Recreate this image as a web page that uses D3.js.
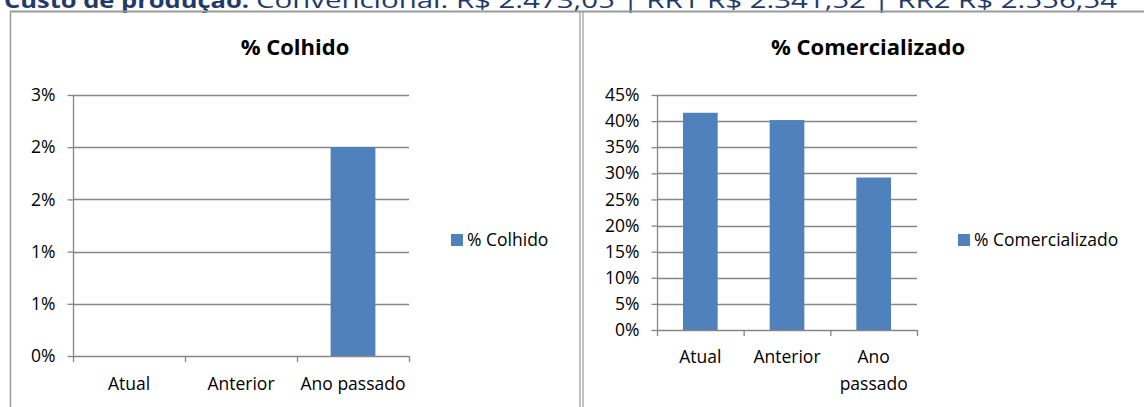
<!DOCTYPE html>
<html>
<head>
<meta charset="utf-8">
<script src="https://cdn.jsdelivr.net/npm/d3@7"></script>
<style>
	body { margin: 0; background: #fff; }
	svg { display: block; font-family: "Open Sans", sans-serif; }
</style>
</head>
<body>
<script>
// data
var categories = ['Atual', 'Anterior', 'Ano passado'];
var colhido = [0, 0, 0.02];
var comercializado = [0.416, 0.402, 0.292];
var colhidoTicks = [0, 0.005, 0.01, 0.015, 0.02, 0.025];
var colhidoTickLabels = ['0%', '1%', '1%', '2%', '2%', '3%'];
var comercTicks = [0, 0.05, 0.1, 0.15, 0.2, 0.25, 0.3, 0.35, 0.4, 0.45];
var comercTickLabels = ['0%', '5%', '10%', '15%', '20%', '25%', '30%', '35%', '40%', '45%'];
var headerBold = 'Custo de produção:';
var headerRest = 'Convencional: R$ 2.473,05 | RR1 R$ 2.341,52 | RR2 R$ 2.556,54';

var W = 1144, H = 407,
	BAR = '#4F81BD',
	GRID = '#868686',
	FRAME = '#9a9a9a';

var svg = d3.select('body').append('svg')
	.attr('width', W)
	.attr('height', H);

// header line, cut at the top of the picture like the reference
svg.append('text')
	.attr('x', 4)
	.attr('y', 8)
	.attr('fill', '#1F3A6B')
	.style('font-size', '22px')
	.style('font-weight', 'bold')
	.attr('textLength', 245)
	.attr('lengthAdjust', 'spacingAndGlyphs')
	.text(headerBold);

svg.append('text')
	.attr('x', 256)
	.attr('y', 8)
	.attr('fill', '#1F3A6B')
	.style('font-size', '22px')
	.attr('textLength', 861)
	.attr('lengthAdjust', 'spacingAndGlyphs')
	.text(headerRest);

// frames
svg.append('line')
	.attr('x1', 10).attr('x2', W)
	.attr('y1', 11.5).attr('y2', 11.5)
	.attr('stroke', FRAME).attr('stroke-width', 2);

svg.append('line')
	.attr('x1', 10.5).attr('x2', 10.5)
	.attr('y1', 11).attr('y2', H)
	.attr('stroke', FRAME).attr('stroke-width', 1.5);

[580, 583].forEach(function (x) {
	svg.append('line')
		.attr('x1', x).attr('x2', x)
		.attr('y1', 11).attr('y2', H)
		.attr('stroke', FRAME).attr('stroke-width', 1.2);
});

function drawChart(p) {
	var g = svg.append('g'),
		x = d3.scaleBand()
			.domain(categories)
			.range([p.left, p.right])
			.paddingInner(0.6)
			.paddingOuter(0.3),
		y = d3.scaleLinear()
			.domain([0, p.max])
			.range([p.bottom, p.top]);

	// title
	g.append('text')
		.attr('x', p.titleX)
		.attr('y', 55)
		.attr('text-anchor', 'middle')
		.style('font-size', '22px')
		.style('font-weight', 'bold')
		.text(p.title);

	// gridlines
	g.selectAll('.grid')
		.data(p.ticks.slice(1))
		.enter().append('line')
			.attr('x1', p.left)
			.attr('x2', p.right)
			.attr('y1', function (d) { return Math.round(y(d)) + 0.5; })
			.attr('y2', function (d) { return Math.round(y(d)) + 0.5; })
			.attr('stroke', GRID)
			.attr('stroke-width', 1.3);

	// y axis
	var yAxis = d3.axisLeft(y)
		.tickValues(p.ticks)
		.tickSize(6)
		.tickPadding(12)
		.tickFormat(function (d, i) { return p.tickLabels[i]; });

	var ya = g.append('g')
		.attr('transform', 'translate(' + (p.left + 0.5) + ',0)')
		.call(yAxis);

	ya.select('.domain').remove();
	ya.selectAll('.tick line').attr('stroke', GRID).attr('stroke-width', 1.3);
	ya.selectAll('.tick text')
		.attr('fill', '#000')
		.style('font-size', '17.5px')
		.style('font-family', '"Open Sans", sans-serif');

	g.append('line')
		.attr('x1', p.left + 0.5).attr('x2', p.left + 0.5)
		.attr('y1', p.top).attr('y2', p.bottom)
		.attr('stroke', GRID).attr('stroke-width', 1.3);

	// bars
	g.selectAll('.bar')
		.data(p.values)
		.enter().append('rect')
			.attr('x', function (d, i) { return x(categories[i]); })
			.attr('width', x.bandwidth())
			.attr('y', function (d) { return y(d); })
			.attr('height', function (d) { return p.bottom - y(d); })
			.attr('fill', BAR);

	// x axis line and boundary ticks
	g.append('line')
		.attr('x1', p.left).attr('x2', p.right)
		.attr('y1', p.bottom + 0.5).attr('y2', p.bottom + 0.5)
		.attr('stroke', GRID).attr('stroke-width', 1.3);

	g.selectAll('.xtick')
		.data(d3.range(categories.length + 1))
		.enter().append('line')
			.attr('x1', function (i) { return p.left + i * x.step() + 0.5; })
			.attr('x2', function (i) { return p.left + i * x.step() + 0.5; })
			.attr('y1', p.bottom)
			.attr('y2', p.bottom + 6)
			.attr('stroke', GRID)
			.attr('stroke-width', 1.3);

	// category labels
	categories.forEach(function (c) {
		var lines = p.wrap && c.indexOf(' ') > 0 ? c.split(' ') : [c],
			t = g.append('text')
				.attr('x', x(c) + x.bandwidth() / 2)
				.attr('y', p.labelY)
				.attr('text-anchor', 'middle')
				.style('font-size', '17.5px');

		lines.forEach(function (l, i) {
			t.append('tspan')
				.attr('x', x(c) + x.bandwidth() / 2)
				.attr('dy', i === 0 ? 0 : 27)
				.text(l);
		});
	});

	// legend
	g.append('rect')
		.attr('x', p.legendX)
		.attr('y', 234)
		.attr('width', 12)
		.attr('height', 12)
		.attr('fill', BAR);

	g.append('text')
		.attr('x', p.legendX + 16)
		.attr('y', 246)
		.style('font-size', '17.5px')
		.text(p.title);
}

drawChart({
	title: '% Colhido',
	titleX: 295,
	values: colhido,
	max: 0.025,
	ticks: colhidoTicks,
	tickLabels: colhidoTickLabels,
	left: 73, right: 409, top: 95, bottom: 356,
	labelY: 390,
	wrap: false,
	legendX: 451
});

drawChart({
	title: '% Comercializado',
	titleX: 868,
	values: comercializado,
	max: 0.45,
	ticks: comercTicks,
	tickLabels: comercTickLabels,
	left: 657, right: 917, top: 95, bottom: 330,
	labelY: 363,
	wrap: true,
	legendX: 958
});
</script>
</body>
</html>
